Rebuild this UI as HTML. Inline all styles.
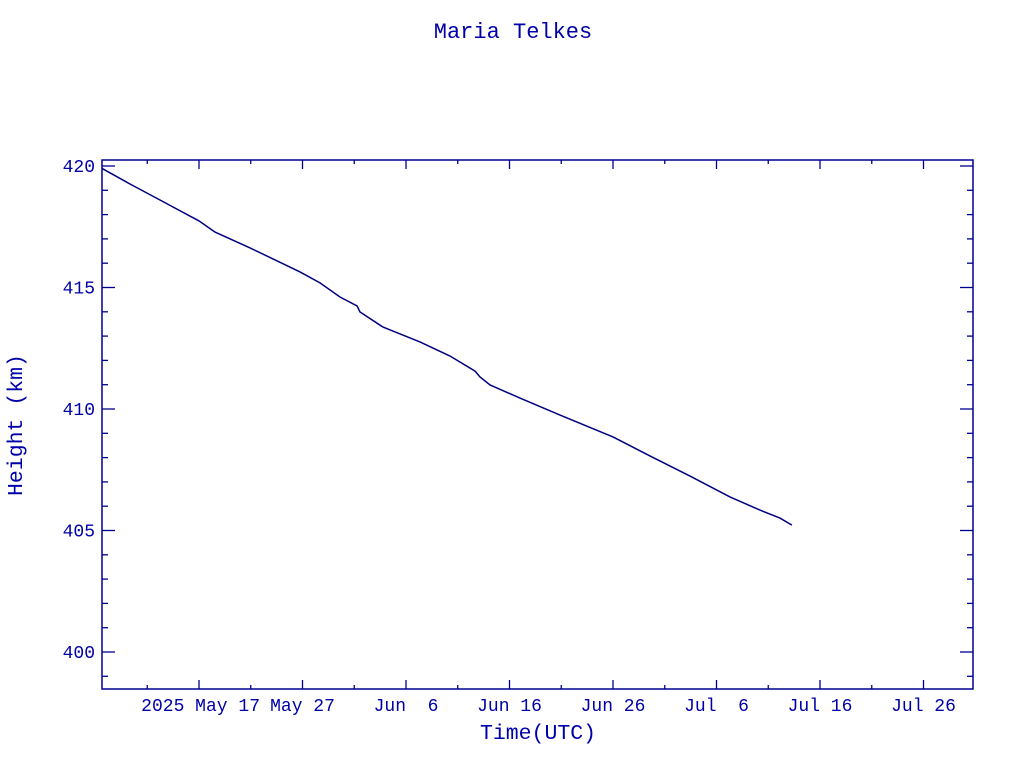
<!DOCTYPE html>
<html><head><meta charset="utf-8"><style>
body{margin:0;background:#fff;}
svg text{font-family:"Liberation Mono",monospace;fill:#0000a8;}
</style></head><body>
<svg id="chart" width="1024" height="768" xmlns="http://www.w3.org/2000/svg">
<text x="513" y="38" text-anchor="middle" font-size="22">Maria Telkes</text>
<text x="538" y="739" text-anchor="middle" font-size="21.5">Time(UTC)</text>
<text transform="translate(22,425) rotate(-90)" text-anchor="middle" font-size="21.5">Height (km)</text>
<rect x="102" y="160" width="871" height="529" fill="none" stroke="#000090" stroke-width="1.5"/>
<g id="ticks"></g>
<polyline id="line" fill="none" stroke="#000080" stroke-width="1.5"/>
</svg>
<script>
const days = [6.63,9.33,12.23,16,17.55,20.93,25.76,27.69,29.62,31.27,31.56,33.78,37.35,40.25,42.67,43.15,44.12,47.01,50.88,56.0,59.57,63.44,67.30,70.20,72.13,73.29];
const heights = [419.90,419.26,418.60,417.74,417.28,416.63,415.64,415.19,414.61,414.24,413.99,413.37,412.76,412.18,411.56,411.32,410.99,410.45,409.75,408.85,408.07,407.24,406.38,405.84,405.51,405.22];
const yTicks = [400,405,410,415,420];
const xTickDays = [16,26,36,46,56,66,76,86];
const xTickLabels = ["2025 May 17","May 27","Jun  6","Jun 16","Jun 26","Jul  6","Jul 16","Jul 26"];

const X = d => 199 + (d - 16) * 10.35;
const Y = v => 166 + (420 - v) * 24.3;
const NS = "http://www.w3.org/2000/svg";
const g = document.getElementById('ticks');
function line(x1,y1,x2,y2,name){
  const l=document.createElementNS(NS,'line');
  l.setAttribute('x1',x1);l.setAttribute('y1',y1);l.setAttribute('x2',x2);l.setAttribute('y2',y2);
  l.setAttribute('stroke','#000090');l.setAttribute('stroke-width','1.3');
  
  
  g.appendChild(l);
}
function text(x,y,s,anchor,name){
  const t=document.createElementNS(NS,'text');
  t.setAttribute('x',x);t.setAttribute('y',y);t.setAttribute('text-anchor',anchor);
  t.setAttribute('font-size','18');t.setAttribute('xml:space','preserve');t.style.whiteSpace='pre';
  t.textContent=s;
  
  
  g.appendChild(t);
}
for(let v=399;v<=420;v++){
  const y=Y(v); if(y<160||y>689) continue;
  const major = v%5===0, len = major?13:6;
  line(102,y,102+len,y,'y-tick');
  line(973,y,973-len,y,'y-tick-right');
}
yTicks.forEach(v=>text(95,Y(v)+6,String(v),'end','y-tick-label'));
for(let d=6;d<=91;d+=5){
  const x=X(d); if(x<102||x>973) continue;
  const major = (d-16)%10===0, len = major?9:4;
  line(x,689,x,689-len,'x-tick');
  line(x,160,x,160+len,'x-tick-top');
}
xTickDays.forEach((d,i)=>text(i===0?X(d)+61:X(d),711,xTickLabels[i],i===0?'end':'middle','x-tick-label'));
document.getElementById('line').setAttribute('points',days.map((d,i)=>X(d)+','+Y(heights[i])).join(' '));
</script>
</body></html>
